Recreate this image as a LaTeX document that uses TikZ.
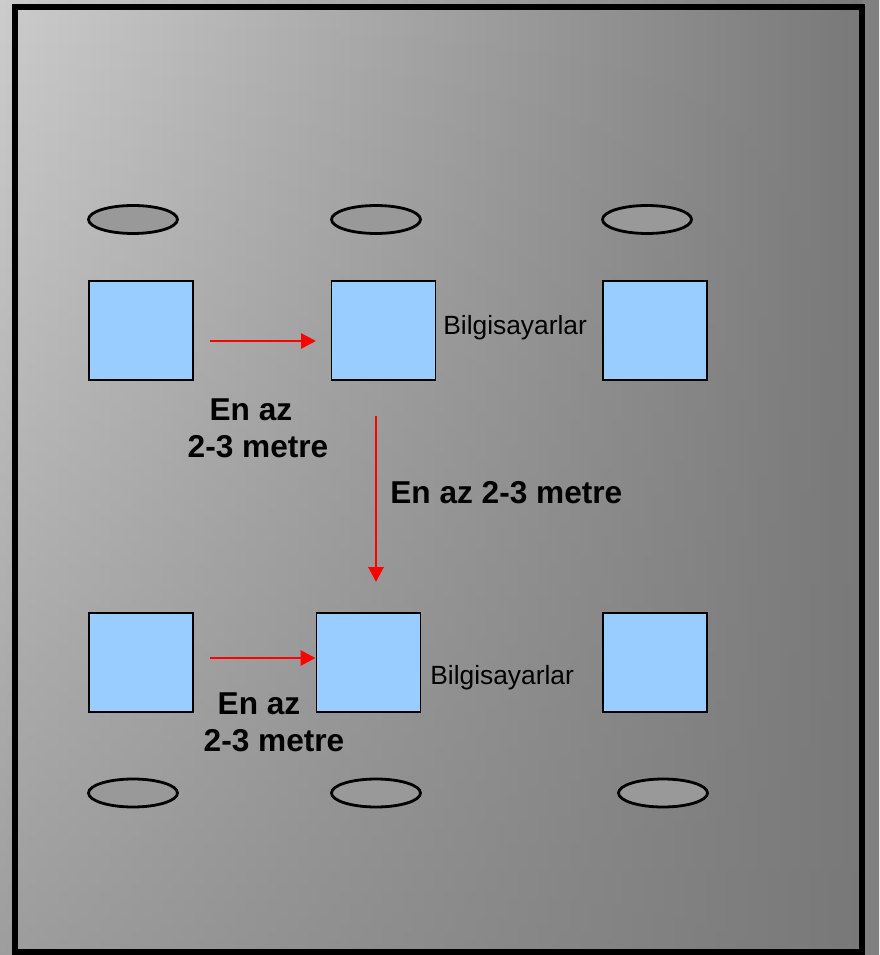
\documentclass[tikz,border=0pt]{standalone}
\usepackage{fontspec}
\setmainfont{Liberation Sans}
\usetikzlibrary{arrows.meta,shapes.geometric,fadings}
\definecolor{pcblue}{HTML}{99CCFF}
\tikzfading[name=downfade,top color=transparent!100,bottom color=transparent!45]
\tikzset{
  pc/.style={draw,line width=1.1pt,fill=pcblue,minimum width=2.08cm,minimum height=1.98cm,inner sep=0pt},
  seat/.style={ellipse,draw,line width=1.6pt,fill=black!40,minimum width=1.78cm,minimum height=.56cm,inner sep=0pt},
  gap/.style={draw=red,line width=1.6pt,-{Triangle[length=.3cm,width=.3cm]}},
  dist/.style={font=\bfseries\fontsize{18}{21}\selectfont,align=center,inner sep=0pt},
  lbl/.style={font=\fontsize{15}{18}\selectfont,inner sep=0pt,anchor=base west}
}
\begin{document}
\begin{tikzpicture}[x=.02cm,y=-.02cm]
\useasboundingbox (0,0) rectangle (879,955);
\shade[left color=black!20,right color=black!53] (0,0) rectangle (879,955);
\fill[black!53,path fading=downfade] (0,0) rectangle (879,955);
\fill[black!50] (862,0) rectangle (879,955);
\draw[line width=.12cm] (15,7) rectangle (862,952);
\node[seat] (t1) at (133,219.5) {};
\node[seat] (t2) at (376,219.5) {};
\node[seat] (t3) at (647,219.5) {};
\node[pc] (s11) at (141,330.5) {};
\node[pc] (s12) at (383.5,330.5) {};
\node[pc] (s13) at (655,330.5) {};
\node[pc] (s21) at (141,662.5) {};
\node[pc] (s22) at (368.5,662.5) {};
\node[pc] (s23) at (655,662.5) {};
\node[seat] (b1) at (133,793) {};
\node[seat] (b2) at (376,793) {};
\node[seat] (b3) at (663,793) {};
\node[lbl] (n1) at (443,335) {Bilgisayarlar};
\node[lbl] (n2) at (430,684) {Bilgisayarlar};
\node[dist] (d1) at (258,428) {En az\hbox to .45em{}\\2-3 metre};
\node[dist] (d2) at (274,722) {En az\hbox to .95em{}\\2-3 metre};
\node[dist,anchor=base west] (d3) at (390,503) {En az 2-3 metre};
\coordinate (a1) at (210,341);
\coordinate (a2) at (316,341);
\coordinate (v1) at (376,416);
\coordinate (v2) at (376,582);
\coordinate (c1) at (210,658);
\draw[gap] (a1) -- (a2);
\draw[gap] (v1) -- (v2);
\draw[gap] (c1) -- (s22.west |- c1);
\end{tikzpicture}
\end{document}
